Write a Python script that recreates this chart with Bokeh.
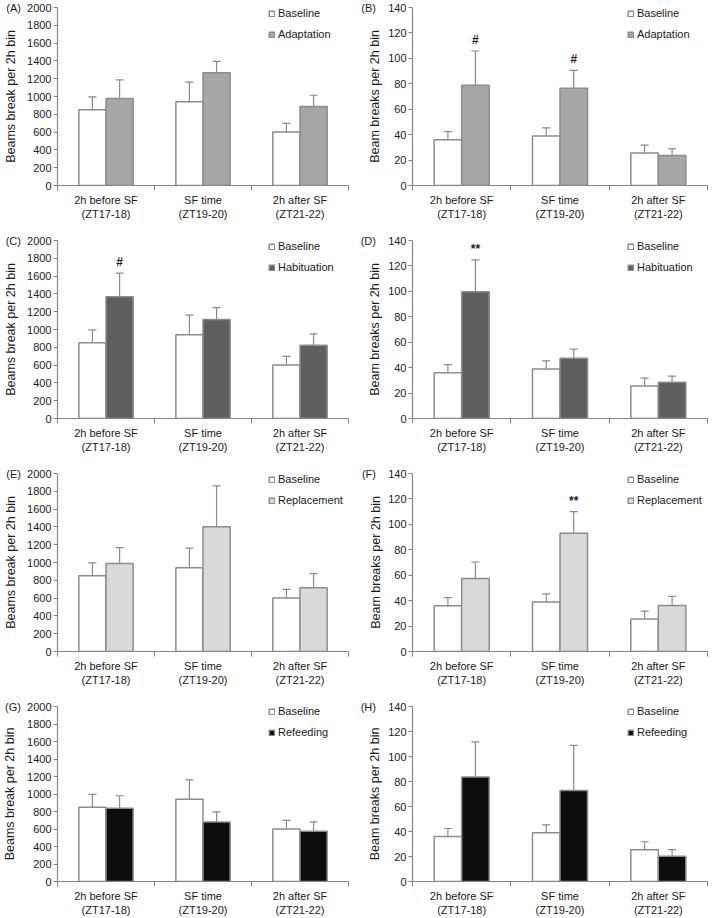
from bokeh.plotting import figure
from bokeh.layouts import gridplot
from bokeh.models import (Range1d, FixedTicker, Whisker, TeeHead, ColumnDataSource,
                          Legend, LegendItem)
from bokeh.embed import file_html
from bokeh.resources import INLINE
from bokeh.core.properties import value

# ---------------- data ----------------
categories = ["2h before SF\n(ZT17-18)", "SF time\n(ZT19-20)", "2h after SF\n(ZT21-22)"]

baseline_beams = [850, 940, 600]
baseline_beams_err = [145, 222, 98]
baseline_breaks = [36, 39, 25.5]
baseline_breaks_err = [6.4, 6.3, 6.3]

adaptation_beams = [977, 1268, 887]
adaptation_beams_err = [210, 127, 127]
adaptation_breaks = [78.8, 76.4, 23.6]
adaptation_breaks_err = [27, 14.1, 5.2]
adaptation_breaks_sig = ["#", "#", ""]

habituation_beams = [1368, 1113, 823]
habituation_beams_err = [265, 132, 128]
habituation_beams_sig = ["#", "", ""]
habituation_breaks = [99.6, 47.3, 28.5]
habituation_breaks_err = [25.2, 7.3, 4.9]
habituation_breaks_sig = ["**", "", ""]

replacement_beams = [988, 1403, 717]
replacement_beams_err = [180, 457, 157]
replacement_breaks = [57.4, 93.0, 36.1]
replacement_breaks_err = [13.0, 17.0, 7.3]
replacement_breaks_sig = ["", "**", ""]

refeeding_beams = [838, 679, 574]
refeeding_beams_err = [142, 116, 108]
refeeding_breaks = [83.7, 72.9, 20.3]
refeeding_breaks_err = [28.0, 36.0, 5.2]

beams_ticks = list(range(0, 2001, 200))
breaks_ticks = list(range(0, 141, 20))

# ---------------- styles ----------------
FONT = "Liberation Sans"
TXT = "#1a1a1a"
AXIS = "#868686"
EDGE = "#8c8c8c"
ERR = "#8a8a8a"
NB = "\u00a0"

panels = [
    ("(A)", "Beams break per 2h bin", baseline_beams, baseline_beams_err, "Adaptation",
     adaptation_beams, adaptation_beams_err, ["", "", ""], "#a6a6a6", beams_ticks),
    ("(B)", "Beam breaks per 2h bin", baseline_breaks, baseline_breaks_err, "Adaptation",
     adaptation_breaks, adaptation_breaks_err, adaptation_breaks_sig, "#a6a6a6", breaks_ticks),
    ("(C)", "Beams break per 2h bin", baseline_beams, baseline_beams_err, "Habituation",
     habituation_beams, habituation_beams_err, habituation_beams_sig, "#5f5f5f", beams_ticks),
    ("(D)", "Beam breaks per 2h bin", baseline_breaks, baseline_breaks_err, "Habituation",
     habituation_breaks, habituation_breaks_err, habituation_breaks_sig, "#5f5f5f", breaks_ticks),
    ("(E)", "Beams break per 2h bin", baseline_beams, baseline_beams_err, "Replacement",
     replacement_beams, replacement_beams_err, ["", "", ""], "#d9d9d9", beams_ticks),
    ("(F)", "Beam breaks per 2h bin", baseline_breaks, baseline_breaks_err, "Replacement",
     replacement_breaks, replacement_breaks_err, replacement_breaks_sig, "#d9d9d9", breaks_ticks),
    ("(G)", "Beams break per 2h bin", baseline_beams, baseline_beams_err, "Refeeding",
     refeeding_beams, refeeding_beams_err, ["", "", ""], "#0d0d0d", beams_ticks),
    ("(H)", "Beam breaks per 2h bin", baseline_breaks, baseline_breaks_err, "Refeeding",
     refeeding_breaks, refeeding_breaks_err, ["", "", ""], "#0d0d0d", breaks_ticks),
]

col_w = [354, 355]
row_h = [233, 233, 233, 219]
row_frame = [178, 178, 178, 176]
b_left = [52, 58]
b_right = [6, 2]
b_top = 7
leg_x = [211, 215]
tag_gap = [2, 4]            # non-breaking spaces between panel tag and top tick value
ylab_standoff = [-15, -24]
BW = 0.28

figs = []
for k, (tag, ylab, bvals, berr, tname, tvals, terr, tsig, tcol, yticks) in enumerate(panels):
    col = k % 2
    row = k // 2
    W, H = col_w[col], row_h[row]
    fh = row_frame[row]
    p = figure(width=W, height=H, output_backend="svg", toolbar_location=None,
               x_range=Range1d(0, len(categories)), y_range=Range1d(yticks[0], yticks[-1]),
               min_border_left=b_left[col], min_border_right=b_right[col],
               min_border_top=b_top, min_border_bottom=H - b_top - fh,
               outline_line_color=None, background_fill_color="white",
               border_fill_color="white")
    p.xgrid.visible = False
    p.ygrid.visible = False

    idx = list(range(len(categories)))
    xb = [i + 0.5 - BW / 2 for i in idx]
    xt = [i + 0.5 + BW / 2 for i in idx]

    rb = p.vbar(x=xb, top=bvals, width=BW, bottom=0, fill_color="white",
                line_color=EDGE, line_width=1.5)
    rt = p.vbar(x=xt, top=tvals, width=BW, bottom=0, fill_color=tcol,
                line_color=EDGE, line_width=1.5)

    for xs, vals, errs in ((xb, bvals, berr), (xt, tvals, terr)):
        src = ColumnDataSource(dict(x=xs,
                                    upper=[v + e for v, e in zip(vals, errs)],
                                    lower=[v - e for v, e in zip(vals, errs)]))
        w = Whisker(source=src, base="x", upper="upper", lower="lower",
                    line_color=ERR, line_width=1.2,
                    upper_head=TeeHead(size=8, line_color=ERR, line_width=1.2),
                    lower_head=TeeHead(size=8, line_color=ERR, line_width=1.2))
        p.add_layout(w)

    sig_src = ColumnDataSource(dict(x=xt, y=[v + e for v, e in zip(tvals, terr)], t=tsig))
    p.text(x="x", y="y", text="t", source=sig_src, text_align="center",
           text_baseline="alphabetic", y_offset=-11, text_font=value(FONT),
           text_font_size="12px", text_font_style="bold", text_color=TXT)

    # x axis: category labels centred, tick marks at category boundaries
    xa = p.xaxis[0]
    xa.ticker = FixedTicker(ticks=[i + 0.5 for i in idx], minor_ticks=[0, 1, 2, 3])
    xa.major_label_overrides = {i + 0.5: categories[i] for i in idx}
    xa.major_tick_line_color = None
    xa.major_tick_out = 0
    xa.major_tick_in = 0
    xa.minor_tick_line_color = AXIS
    xa.minor_tick_out = 5
    xa.minor_tick_in = 0
    xa.axis_line_color = AXIS
    xa.axis_line_width = 1.2
    xa.major_label_standoff = 3
    xa.major_label_text_font = FONT
    xa.major_label_text_font_size = "11px"
    xa.major_label_text_color = TXT

    # y axis; the panel tag sits level with the top tick value
    ya = p.yaxis[0]
    ya.ticker = FixedTicker(ticks=yticks, minor_ticks=[])
    ya.major_label_overrides = {yticks[-1]: tag + NB * tag_gap[col] + str(yticks[-1])}
    ya.axis_line_color = AXIS
    ya.axis_line_width = 1.2
    ya.major_tick_line_color = AXIS
    ya.major_tick_out = 4
    ya.major_tick_in = 0
    ya.minor_tick_line_color = None
    ya.major_label_standoff = 2
    ya.major_label_text_font = FONT
    ya.major_label_text_font_size = "11px"
    ya.major_label_text_color = TXT
    ya.axis_label = ylab
    ya.axis_label_standoff = ylab_standoff[col]
    ya.axis_label_text_font = FONT
    ya.axis_label_text_font_size = "12.5px"
    ya.axis_label_text_font_style = "normal"
    ya.axis_label_text_color = TXT

    legend = Legend(items=[LegendItem(label="Baseline", renderers=[rb]),
                           LegendItem(label=tname, renderers=[rt])],
                    location=(leg_x[col], fh - 33),
                    glyph_width=7, glyph_height=7, label_height=11, label_width=20,
                    spacing=9, padding=0, margin=0, label_standoff=3,
                    label_text_font=FONT, label_text_font_size="11px",
                    label_text_color=TXT, border_line_color=None,
                    background_fill_alpha=0)
    p.add_layout(legend, "center")
    figs.append(p)

grid = gridplot([[figs[0], figs[1]], [figs[2], figs[3]], [figs[4], figs[5]], [figs[6], figs[7]]],
                toolbar_location=None)

open("out.html", "w").write(file_html(grid, INLINE))
